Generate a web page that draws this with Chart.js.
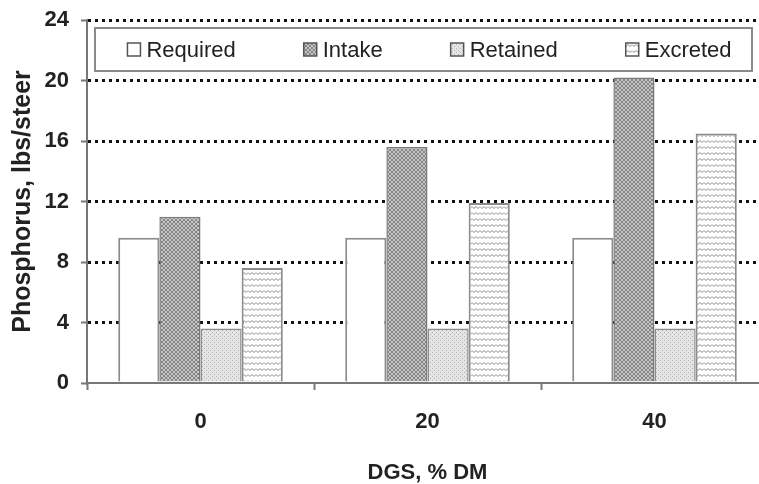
<!DOCTYPE html>
<html>
<head>
<meta charset="utf-8">
<script src="https://cdn.jsdelivr.net/npm/chart.js@4/dist/chart.umd.min.js"></script>
<style>
  html, body { margin: 0; padding: 0; background: #fff; overflow: hidden; }
  #wrap { width: 776px; height: 484px; }
</style>
</head>
<body>
<div id="wrap"><canvas id="chart" width="776" height="484"></canvas></div>
<script>
// ── DATOS ──
const categorias = ['0', '20', '40'];
const required   = [9.6, 9.6, 9.6];
const intake     = [11.0, 15.6, 20.2];
const retained   = [3.6, 3.6, 3.6];
const excreted   = [7.6, 11.9, 16.5];
const yTicks     = [0, 4, 8, 12, 16, 20, 24];

const FONT_SANS = "'Liberation Sans', Arial, sans-serif";

// ── PATRONES ──
function patron(w, h, dibujar) {
  const c = document.createElement('canvas');
  c.width = w; c.height = h;
  const g = c.getContext('2d');
  dibujar(g);
  return g.createPattern(c, 'repeat');
}

const patIntake = patron(4, 4, g => {
  g.fillStyle = '#c6c6c6';
  g.fillRect(0, 0, 4, 4);
  g.fillStyle = '#858585';
  for (let i = 0; i < 4; i++) {
    g.fillRect(i, i, 1, 1);
    g.fillRect(i, 3 - i, 1, 1);
  }
});

const patRetained = patron(4, 4, g => {
  g.fillStyle = '#e4e4e4';
  g.fillRect(0, 0, 4, 4);
  g.fillStyle = '#b4b4b4';
  g.fillRect(0, 0, 1, 1);
  g.fillRect(2, 2, 1, 1);
});

const patExcreted = patron(8, 6, g => {
  g.fillStyle = '#ffffff';
  g.fillRect(0, 0, 8, 6);
  g.strokeStyle = '#8a8a8a';
  g.lineWidth = 1;
  g.beginPath();
  g.moveTo(0, 2.5); g.lineTo(2, 4.5); g.lineTo(4, 2.5); g.lineTo(6, 4.5); g.lineTo(8, 2.5);
  g.stroke();
});

// ── LEYENDA EN CAJA (dentro del área del gráfico) ──
const leyendaCaja = {
  id: 'leyendaCaja',
  afterDatasetsDraw(chart) {
    const ctx = chart.ctx;
    const x0 = 95, x1 = 752, y0 = 28, y1 = 71;
    ctx.save();
    ctx.fillStyle = '#fff';
    ctx.fillRect(x0, y0, x1 - x0, y1 - y0);
    ctx.strokeStyle = '#8a8a8a';
    ctx.lineWidth = 2;
    ctx.strokeRect(x0, y0, x1 - x0, y1 - y0);

    ctx.font = '22px ' + FONT_SANS;
    ctx.textBaseline = 'middle';
    const caja = 13, sep = 6, hueco = 68;
    const items = chart.data.datasets.map(ds => ({
      ds, w: caja + sep + ctx.measureText(ds.label).width
    }));
    const total = items.reduce((s, it) => s + it.w, 0) + hueco * (items.length - 1);
    let x = (x0 + x1) / 2 - total / 2 + 6;
    const yc = (y0 + y1) / 2;
    items.forEach(it => {
      ctx.fillStyle = it.ds.backgroundColor;
      ctx.fillRect(x, yc - caja / 2, caja, caja);
      ctx.strokeStyle = '#555';
      ctx.lineWidth = 1.5;
      ctx.strokeRect(x, yc - caja / 2, caja, caja);
      ctx.fillStyle = '#222';
      ctx.fillText(it.ds.label, x + caja + sep, yc + 1);
      x += it.w + hueco;
    });
    ctx.restore();
  }
};

new Chart(document.getElementById('chart'), {
  type: 'bar',
  data: {
    labels: categorias,
    datasets: [
      { label: 'Required', data: required, backgroundColor: '#ffffff', borderColor: '#8c8c8c', borderWidth: 2 },
      { label: 'Intake',   data: intake,   backgroundColor: patIntake,   borderColor: '#7a7a7a', borderWidth: 1.5 },
      { label: 'Retained', data: retained, backgroundColor: patRetained, borderColor: '#8c8c8c', borderWidth: 1.5 },
      { label: 'Excreted', data: excreted, backgroundColor: patExcreted, borderColor: '#8c8c8c', borderWidth: 2 },
    ]
  },
  options: {
    responsive: false,
    animation: false,
    devicePixelRatio: 1,
    layout: { padding: { top: 20, right: 8, bottom: 0, left: 0 } },
    plugins: {
      legend: { display: false },
      tooltip: { enabled: false }
    },
    datasets: { bar: { categoryPercentage: 0.725, barPercentage: 1.0 } },
    scales: {
      x: {
        grid: { drawOnChartArea: false, drawTicks: true, tickLength: 7, tickColor: '#777', tickWidth: 2 },
        border: { color: '#777', width: 2 },
        ticks: { color: '#222', padding: 19, font: { family: FONT_SANS, size: 22, weight: 'bold' } },
        title: { display: true, text: 'DGS, % DM', color: '#222', padding: { top: 0, bottom: -2 },
                 font: { family: FONT_SANS, size: 22, weight: 'bold' } },
        afterFit(scale) { scale.height = 101; scale.paddingLeft = 0; scale.paddingRight = 0; }
      },
      y: {
        min: 0, max: 24,
        afterBuildTicks(scale) { scale.ticks = yTicks.map(v => ({ value: v })); },
        grid: {
          color: ctx => ctx.tick && ctx.tick.value === 0 ? 'rgba(0,0,0,0)' : '#111',
          lineWidth: 3,
          tickLength: 6, tickColor: '#777', tickWidth: 2
        },
        border: { color: '#777', width: 2, dash: [3, 4] },
        ticks: { color: '#222', padding: 12, font: { family: FONT_SANS, size: 22, weight: 'bold' } },
        title: { display: true, text: 'Phosphorus, lbs/steer', color: '#222', padding: { top: 8, bottom: 0 },
                 font: { family: FONT_SANS, size: 25, weight: 'bold' } },
        afterFit(scale) { scale.width = 87; scale.paddingTop = 0; scale.paddingBottom = 0; }
      }
    }
  },
  plugins: [leyendaCaja]
});
</script>
</body>
</html>
